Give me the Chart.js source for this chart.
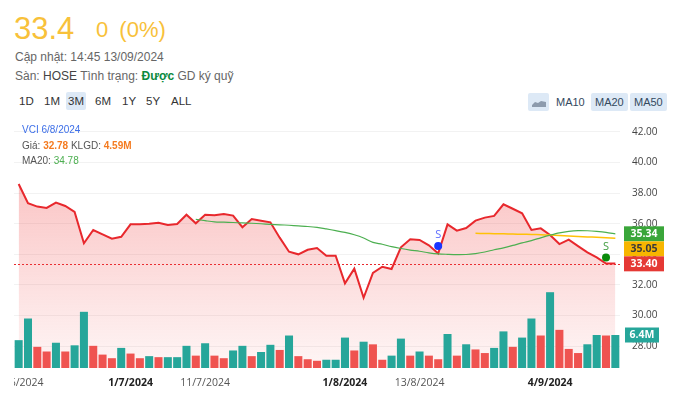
<!DOCTYPE html>
<html>
<head>
<meta charset="utf-8">
<script src="https://cdn.jsdelivr.net/npm/chart.js@4.4.1/dist/chart.umd.min.js"></script>
<style>
  body { margin: 0; width: 680px; height: 396px; overflow: hidden; position: relative; background: #fff;
         font-family: "Liberation Sans", Arial, sans-serif; }
  .abs { position: absolute; white-space: nowrap; }
  #last { left: 14px; top: 11px; font-size: 31px; color: #f8c13a; }
  #chg  { left: 96px; top: 17px; font-size: 22px; color: #f8c13a; word-spacing: 5px; }
  #upd  { left: 15px; top: 50px; font-size: 12px; color: #666; }
  #san  { left: 15px; top: 69px; font-size: 12px; color: #666; }
  #san b { font-weight: normal; color: #444; }
  #san .ok { font-weight: bold; color: #0b8a3e; }
  .btn { top: 92px; height: 18px; line-height: 18px; font-size: 11.5px; color: #333; padding: 0 2px; border-radius: 2px; }
  .on { background: #dde9f6; }
  .mab { top: 93px; height: 18px; line-height: 18px; font-size: 11px; color: #34495e; padding: 0 4px; border-radius: 2px; }
  #box { position: absolute; left: 14px; top: 118px; width: 666px; height: 278px; }
  #info { left: 22px; top: 122px; font-size: 10px; color: #555; line-height: 15.5px; z-index: 2; }
  #info .t { color: #3d6fe8; }
  #info .o { color: #f47b20; font-weight: bold; }
  #info .g { color: #4caf50; }
</style>
</head>
<body>
<div class="abs" id="last">33.4</div>
<div class="abs" id="chg">0 (0%)</div>
<div class="abs" id="upd">Cập nhật: 14:45 13/09/2024</div>
<div class="abs" id="san">Sàn: <b>HOSE</b> Tình trạng: <span class="ok">Được</span> GD ký quỹ</div>

<div class="abs btn" style="left:17px">1D</div>
<div class="abs btn" style="left:42px">1M</div>
<div class="abs btn on" style="left:66px">3M</div>
<div class="abs btn" style="left:93px">6M</div>
<div class="abs btn" style="left:120px">1Y</div>
<div class="abs btn" style="left:144px">5Y</div>
<div class="abs btn" style="left:169px">ALL</div>

<div class="abs mab on" style="left:528px;width:13px">
  <svg width="14" height="18" viewBox="0 0 14 18"><path d="M0 12 L3 9 L6 10 L9 8 L14 9 L14 14 L0 14 Z" fill="#8d9bad"/></svg>
</div>
<div class="abs mab" style="left:552px">MA10</div>
<div class="abs mab on" style="left:591px">MA20</div>
<div class="abs mab on" style="left:630px">MA50</div>

<div class="abs" id="info">
  <div class="t">VCI 6/8/2024</div>
  <div>Giá: <span class="o">32.78</span> KLGD: <span class="o">4.59M</span></div>
  <div>MA20: <span class="g">34.78</span></div>
</div>

<div id="box"><canvas id="c"></canvas></div>

<script>
// trading days, 13/6/2024 .. 13/9/2024
const dates = [
  "13/6/2024","14/6/2024","17/6/2024","18/6/2024","19/6/2024","20/6/2024","21/6/2024","24/6/2024","25/6/2024","26/6/2024","27/6/2024","28/6/2024",
  "1/7/2024","2/7/2024","3/7/2024","4/7/2024","5/7/2024","8/7/2024","9/7/2024","10/7/2024","11/7/2024","12/7/2024","15/7/2024","16/7/2024",
  "17/7/2024","18/7/2024","19/7/2024","22/7/2024","23/7/2024","24/7/2024","25/7/2024","26/7/2024","29/7/2024","30/7/2024","31/7/2024",
  "1/8/2024","2/8/2024","5/8/2024","6/8/2024","7/8/2024","8/8/2024","9/8/2024","12/8/2024","13/8/2024","14/8/2024","15/8/2024","16/8/2024",
  "19/8/2024","20/8/2024","21/8/2024","22/8/2024","23/8/2024","26/8/2024","27/8/2024","28/8/2024","29/8/2024","30/8/2024",
  "4/9/2024","5/9/2024","6/9/2024","9/9/2024","10/9/2024","11/9/2024","12/9/2024","13/9/2024"
];

const prices = [
  38.60, 37.34, 37.12, 37.03, 37.38, 37.16, 36.77, 34.72, 35.59, 35.31, 35.02, 35.15,
  35.96, 35.96, 36.00, 36.07, 35.92, 35.98, 36.59, 36.03, 36.59, 36.55, 36.64, 36.53,
  35.77, 36.31, 36.20, 36.09, 35.09, 34.17, 34.00, 34.30, 34.41, 33.91, 33.91,
  32.10, 33.06, 31.16, 32.78, 33.19, 33.04, 34.46, 34.98, 34.94, 34.59, 34.06, 35.96,
  35.55, 35.72, 36.20, 36.40, 36.51, 37.27, 36.98, 36.68, 35.59, 35.70,
  35.26, 34.67, 34.96, 34.54, 34.13, 33.80, 33.40, 33.40
];

const ma20 = [
  null, null, null, null, null, null, null, null, null, null, null, null,
  null, null, null, null, null, null, null, 36.29, 36.20, 36.12, 36.10, 36.08,
  36.05, 36.03, 36.00, 35.96, 35.93, 35.90, 35.86, 35.82, 35.76, 35.66, 35.55,
  35.43, 35.28, 35.07, 34.78, 34.66, 34.50, 34.38, 34.28, 34.20, 34.10, 34.03, 34.00,
  33.98, 33.99, 34.05, 34.15, 34.30, 34.42, 34.58, 34.75, 34.90, 35.08,
  35.25, 35.40, 35.50, 35.55, 35.54, 35.50, 35.44, 35.34
];

const ma50 = [
  null, null, null, null, null, null, null, null, null, null, null, null,
  null, null, null, null, null, null, null, null, null, null, null, null,
  null, null, null, null, null, null, null, null, null, null, null,
  null, null, null, null, null, null, null, null, null, null, null, null,
  null, null, 35.37, 35.36, 35.35, 35.34, 35.33, 35.31, 35.30, 35.28,
  35.26, 35.23, 35.20, 35.17, 35.14, 35.11, 35.08, 35.05
];

// volume in millions, 1 = up day, 0 = down day
const volumes = [
  5.4, 9.6, 4.1, 3.2, 4.9, 3.2, 4.4, 10.9, 4.3, 2.6, 1.9, 3.9,
  2.8, 1.9, 2.3, 2.1, 2.1, 2.1, 4.3, 2.4, 4.8, 2.4, 1.9, 3.4,
  4.3, 2.3, 3.1, 4.5, 3.5, 6.3, 2.3, 1.7, 1.4, 1.6, 1.6,
  5.9, 3.4, 5.1, 4.59, 1.6, 2.4, 5.7, 2.4, 3.2, 2.4, 1.7, 6.6,
  2.4, 4.6, 3.6, 2.9, 3.9, 7.1, 4.1, 5.9, 9.6, 6.3,
  14.7, 7.4, 3.7, 2.9, 4.6, 6.4, 6.3, 6.4
];
const volUp = [
  1, 1, 0, 0, 1, 0, 1, 1, 0, 0, 0, 1,
  0, 0, 1, 0, 1, 1, 1, 0, 1, 0, 0, 1,
  1, 0, 1, 1, 0, 1, 0, 0, 0, 1, 1,
  1, 0, 1, 0, 0, 1, 1, 0, 1, 0, 0, 1,
  0, 1, 0, 0, 1, 1, 0, 1, 1, 0,
  1, 0, 0, 0, 1, 1, 0, 1
];

const xTickDates = ["13/6/2024", "1/7/2024", "11/7/2024", "1/8/2024", "13/8/2024", "4/9/2024"];
const monthStarts = ["1/7/2024", "1/8/2024", "4/9/2024"];
const yTicks = [28, 30, 32, 34, 36, 38, 40, 42];

const signalDates = ["15/8/2024", "12/9/2024"];
const signalValues = [34.55, 33.80];

const RED = "#e8282d", GREEN = "#4caf50", AMBER = "#ffc107", TEAL = "#26a69a", VRED = "#ef5350";
const AXIS_FONT = '"Open Sans", "Noto Sans", sans-serif';

const signalData = dates.map(d => {
  const k = signalDates.indexOf(d);
  return k < 0 ? null : signalValues[k];
});
const signalColor = i => (i === dates.indexOf(signalDates[0]) ? "#1a35ff" : "#0b8a0b");
const signalText = i => (i === dates.indexOf(signalDates[0]) ? "#5d6cff" : "#3f9c3f");

function areaGradient(ctx) {
  const a = ctx.chart.chartArea;
  if (!a) return "rgba(240,70,70,0.2)";
  const g = ctx.chart.ctx.createLinearGradient(0, a.top, 0, a.bottom);
  g.addColorStop(0, "rgba(240,70,70,0.40)");
  g.addColorStop(1, "rgba(240,70,70,0.05)");
  return g;
}

function badge(ctx, x, y, w, text, bg, fg) {
  ctx.fillStyle = bg;
  ctx.fillRect(x, y - 7.5, w, 15);
  ctx.fillStyle = fg;
  ctx.font = "bold 10.5px " + AXIS_FONT;
  ctx.textAlign = "center";
  ctx.textBaseline = "middle";
  ctx.fillText(text, x + w / 2, y + 0.5);
}

const extras = {
  id: "extras",
  beforeDatasetsDraw(chart) {
    const { ctx, chartArea: a, scales: { y } } = chart;
    const py = Math.round(y.getPixelForValue(prices[prices.length - 1])) + 0.5;
    ctx.save();
    ctx.strokeStyle = RED;
    ctx.lineWidth = 1;
    ctx.setLineDash([2, 2]);
    ctx.beginPath();
    ctx.moveTo(a.left, py);
    ctx.lineTo(a.right, py);
    ctx.stroke();
    ctx.restore();
  },
  afterDatasetsDraw(chart) {
    const { ctx, scales: { x, y } } = chart;
    ctx.save();
    ctx.font = "11px " + AXIS_FONT;
    ctx.textAlign = "center";
    ctx.textBaseline = "middle";
    signalDates.forEach((d, k) => {
      const i = dates.indexOf(d);
      ctx.fillStyle = signalText(i);
      ctx.fillText("S", x.getPixelForValue(i), y.getPixelForValue(signalValues[k]) - 11);
    });
    ctx.restore();
  },
  afterDraw(chart) {
    const { ctx, chartArea: a, scales: { y, y2 } } = chart;
    const n = prices.length - 1;
    const tags = [
      { v: ma20[n], bg: "#3aa63a", fg: "#fff" },
      { v: ma50[n], bg: "#f7b500", fg: "#3a3a3a" },
      { v: prices[n], bg: "#e53935", fg: "#fff" }
    ].map(t => ({ ...t, py: y.getPixelForValue(t.v) }))
     .sort((p, q) => p.py - q.py);
    for (let k = 1; k < tags.length; k++) {
      if (tags[k].py - tags[k - 1].py < 15) tags[k].py = tags[k - 1].py + 15;
    }
    ctx.save();
    tags.forEach(t => badge(ctx, a.right + 4, t.py, 40, t.v.toFixed(2), t.bg, t.fg));
    const vLast = volumes[n];
    badge(ctx, a.right + 5, y2.getPixelForValue(vLast), 34, vLast.toFixed(1) + "M", TEAL, "#fff");
    ctx.restore();
  }
};

new Chart(document.getElementById("c"), {
  data: {
    labels: dates,
    datasets: [
      { type: "line", label: "MA20", data: ma20, yAxisID: "y", borderColor: GREEN, borderWidth: 1.2,
        pointRadius: 0, tension: 0.3, order: 0 },
      { type: "line", label: "MA50", data: ma50, yAxisID: "y", borderColor: AMBER, borderWidth: 1.5,
        pointRadius: 0, tension: 0.3, order: 0 },
      { type: "line", label: "S", data: signalData, yAxisID: "y", showLine: false,
        pointRadius: 4, pointBorderWidth: 0,
        pointBackgroundColor: ctx => signalColor(ctx.dataIndex), order: 0 },
      { type: "bar", label: "KLGD", data: volumes, yAxisID: "y2",
        backgroundColor: volUp.map(u => (u ? TEAL : VRED)),
        barPercentage: 0.86, categoryPercentage: 1, order: 1 },
      { type: "line", label: "VCI", data: prices, yAxisID: "y", borderColor: RED, borderWidth: 2,
        pointRadius: 0, tension: 0, fill: "start", backgroundColor: areaGradient, order: 3 }
    ]
  },
  options: {
    responsive: true,
    maintainAspectRatio: false,
    animation: false,
    layout: { autoPadding: false, padding: { top: 2, left: 0, right: 0, bottom: 0 } },
    plugins: { legend: { display: false }, tooltip: { enabled: false } },
    scales: {
      x: {
        offset: true,
        grid: { display: false },
        border: { display: false },
        ticks: {
          autoSkip: false, maxRotation: 0, padding: 1,
          callback: (v, i) => (xTickDates.includes(dates[i]) ? dates[i] : ""),
          color: ctx => (monthStarts.includes(dates[ctx.index]) ? "#222" : "#555"),
          font: ctx => ({ family: AXIS_FONT, size: 10.5,
            weight: monthStarts.includes(dates[ctx.index]) ? "bold" : "normal" })
        },
        afterFit: s => { s.paddingLeft = 0; s.paddingRight = 0; s.height = 28; }
      },
      y: {
        position: "right",
        min: 26.57, max: 42.78,
        grid: { color: "#f2f2f2", drawTicks: false },
        border: { display: false },
        afterBuildTicks: s => { s.ticks = yTicks.map(v => ({ value: v })); },
        ticks: { padding: 12, color: "#444", font: { family: AXIS_FONT, size: 10 },
          callback: v => Number(v).toFixed(2) },
        afterFit: s => { s.width = 60; s.paddingTop = 0; s.paddingBottom = 0; }
      },
      y2: { display: false, min: 0, max: 48.1 }
    }
  },
  plugins: [extras]
});
</script>
</body>
</html>
